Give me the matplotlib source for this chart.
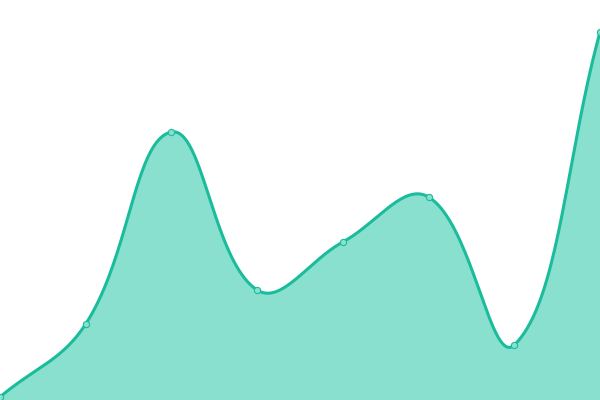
import numpy as np
import matplotlib
matplotlib.use("Agg")
import matplotlib.pyplot as plt

# values (bottom of the chart = 0)
labels = ["1", "2", "3", "4", "5", "6", "7", "8"]
values = [3, 76, 268, 110, 158, 203, 55, 368]

LINE = "#1abc9c"
FILL = "#89e0cf"


def spline_path(px, py, tension=0.4, steps=40):
	"""Cubic bezier through the points, control points as in Chart.js splineCurve"""
	n = len(px)
	cp_prev = []
	cp_next = []
	for i in range(n):
		p0 = (px[max(i - 1, 0)], py[max(i - 1, 0)])
		p1 = (px[i], py[i])
		p2 = (px[min(i + 1, n - 1)], py[min(i + 1, n - 1)])
		d01 = np.hypot(p1[0] - p0[0], p1[1] - p0[1])
		d12 = np.hypot(p2[0] - p1[0], p2[1] - p1[1])
		tot = d01 + d12
		s01 = d01 / tot if tot else 0
		s12 = d12 / tot if tot else 0
		fa = tension * s01
		fb = tension * s12
		cp_prev.append((p1[0] - fa * (p2[0] - p0[0]), p1[1] - fa * (p2[1] - p0[1])))
		cp_next.append((p1[0] + fb * (p2[0] - p0[0]), p1[1] + fb * (p2[1] - p0[1])))
	xs, ys = [], []
	t = np.linspace(0, 1, steps)
	for i in range(n - 1):
		a = np.array([px[i], py[i]])
		b = np.array(cp_next[i])
		c = np.array(cp_prev[i + 1])
		d = np.array([px[i + 1], py[i + 1]])
		pts = ((1 - t) ** 3)[:, None] * a + (3 * (1 - t) ** 2 * t)[:, None] * b \
			+ (3 * (1 - t) * t ** 2)[:, None] * c + (t ** 3)[:, None] * d
		xs.extend(pts[:, 0])
		ys.extend(pts[:, 1])
	return np.array(xs), np.array(ys)


fig = plt.figure(figsize=(6, 4), dpi=100)
ax = fig.add_axes([0, 0, 1, 1])
x = np.arange(len(values))
ax.set_xlim(0, len(values) - 1)
ax.set_ylim(0, 400)
ax.axis("off")

# build the curve in display space so the tension looks right, then go back to data
disp = ax.transData.transform(np.column_stack([x, values]))
sx, sy = spline_path(disp[:, 0], disp[:, 1])
curve = ax.transData.inverted().transform(np.column_stack([sx, sy]))

ax.fill_between(curve[:, 0], curve[:, 1], 0, color=FILL, lw=0)
ax.plot(curve[:, 0], curve[:, 1], color=LINE, lw=2.2, solid_capstyle="round")
ax.plot(x, values, "o", ms=4.5, mfc=FILL, mec=LINE, mew=0.8, clip_on=False)

fig.savefig("out.png", dpi=100)
